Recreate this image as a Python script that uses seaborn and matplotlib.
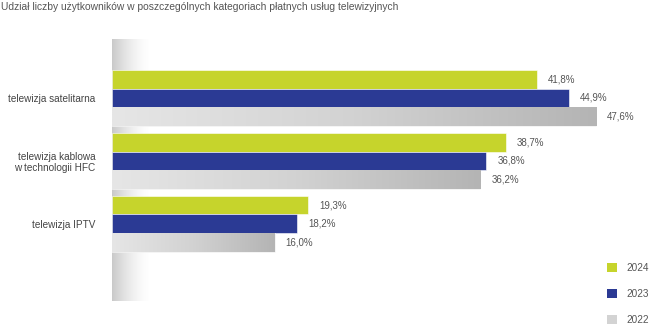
import numpy as np
import pandas as pd
import matplotlib
matplotlib.use("Agg")
import matplotlib.pyplot as plt
import seaborn as sns
from matplotlib.colors import LinearSegmentedColormap
from matplotlib.patches import Patch

title = "Udział liczby użytkowników w poszczególnych kategoriach płatnych usług telewizyjnych"
categories = ["telewizja satelitarna", "telewizja kablowa\nw technologii HFC", "telewizja IPTV"]
years = ["2024", "2023", "2022"]
values_2024 = [41.8, 38.7, 19.3]
values_2023 = [44.9, 36.8, 18.2]
values_2022 = [47.6, 36.2, 16.0]

colors = {"2024": "#c6d42c", "2023": "#2b3a94", "2022": "#d3d3d3"}

rows = []
for y, vals in zip(years, [values_2024, values_2023, values_2022]):
    for c, v in zip(categories, vals):
        rows.append({"kategoria": c, "rok": y, "udzial": v})
df = pd.DataFrame(rows)

sns.set_theme(style="white")
plt.rcParams["font.family"] = ["Liberation Sans", "DejaVu Sans"]

fig = plt.figure(figsize=(6.55, 3.35), dpi=100)
W, H = 655, 335
ax_left, ax_right, ax_top, ax_bot = 112, 655, 35, 305
ax = fig.add_axes([ax_left / W, 1 - ax_bot / H, (ax_right - ax_left) / W, (ax_bot - ax_top) / H])

sns.barplot(data=df, y="kategoria", x="udzial", hue="rok", hue_order=years,
            order=categories, palette=colors, orient="h", width=0.89, saturation=1,
            dodge=True, ax=ax, legend=False, edgecolor="white", linewidth=0.4)

XMAX = 53.4
YLIM = (3.29, -1.0)

# gradient on 2022 bars
grad = np.linspace(0, 1, 256).reshape(1, -1)
gcmap = LinearSegmentedColormap.from_list("g", ["#e6e6e6", "#d2d2d2", "#b4b4b4"])
for patch in ax.containers[2]:
    x0, y0 = patch.get_x(), patch.get_y()
    w, h = patch.get_width(), patch.get_height()
    im = ax.imshow(grad, cmap=gcmap, aspect="auto", extent=[x0, x0 + w, y0 + h, y0],
                   zorder=patch.get_zorder() + 0.1)
    im.set_clip_path(patch)

# left shadow
shadow = np.zeros((2, 256, 4))
shadow[..., :3] = 0.45
shadow[..., 3] = np.linspace(0.55, 0, 256) ** 1.6
ax.imshow(shadow, aspect="auto", extent=[0, 3.8, 3.22, -0.94], zorder=0.5)
ax.set_xlim(0, XMAX)
ax.set_ylim(*YLIM)

# value labels
for cont in ax.containers:
    labels = [f"{p.get_width():.1f}%".replace(".", ",") for p in cont]
    ax.bar_label(cont, labels=labels, padding=8, fontsize=7, color="#555555")

ax.set_xlabel("")
ax.set_ylabel("")
ax.set_xticks([])
ax.tick_params(axis="y", length=0, pad=12, labelsize=7.2, labelcolor="#444444")
for lab in ax.get_yticklabels():
    lab.set_horizontalalignment("right")
    lab.set_multialignment("right")
for s in ax.spines.values():
    s.set_visible(False)

# legend
handles = [Patch(facecolor=colors[y], edgecolor="none") for y in years]
fig.legend(handles, years, loc="upper left", bbox_to_anchor=(603 / W, 1 - 259 / H),
           frameon=False, fontsize=7.2, labelcolor="#555555", handlelength=1.0,
           handleheight=1.0, labelspacing=1.6, handletextpad=0.9, borderaxespad=0)

fig.text(1 / W, 1 - 7 / H, title, fontsize=7.4, color="#555555", va="center", ha="left")

fig.savefig("out.png", dpi=100, facecolor="white")
